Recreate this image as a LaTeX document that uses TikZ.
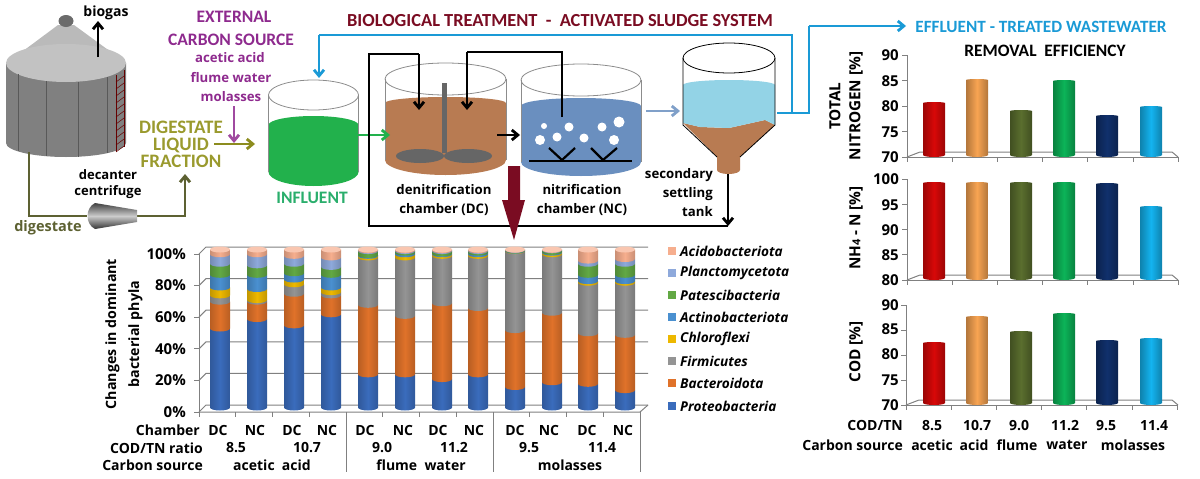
\documentclass[tikz,border=0pt]{standalone}
\usepackage{fontspec}
\setmainfont{Open Sans}
\newfontfamily\capfont{Carlito}
\usetikzlibrary{arrows.meta}
\newcommand{\fsz}[2]{\fontsize{#1}{#2}\selectfont}
\definecolor{olivepipe}{HTML}{5D6132}
\definecolor{olivetxt}{HTML}{9A9A2E}
\definecolor{oliveflow}{HTML}{8C8C1E}
\definecolor{purptxt}{HTML}{8E2A8E}
\definecolor{purpflow}{HTML}{A04AA0}
\definecolor{effblue}{HTML}{1A9AD6}
\definecolor{mtitle}{HTML}{7A0C22}
\definecolor{sludge}{HTML}{B87B52}
\definecolor{nitro}{HTML}{6A8FBF}
\definecolor{settle}{HTML}{93D3E6}
\definecolor{infl}{HTML}{22B14C}
\definecolor{infltxt}{HTML}{2AAE6C}
\definecolor{cprot}{HTML}{3A6CBC}
\definecolor{cbact}{HTML}{E0722A}
\definecolor{cfirm}{HTML}{949494}
\definecolor{cchlo}{HTML}{EDB800}
\definecolor{cacti}{HTML}{4A90D0}
\definecolor{cpate}{HTML}{62A844}
\definecolor{cplan}{HTML}{8EA9DB}
\definecolor{cacid}{HTML}{F6AE8E}
\definecolor{bred}{HTML}{D80808}
\definecolor{borg}{HTML}{F8A452}
\definecolor{boli}{HTML}{5A6E2E}
\definecolor{bgrn}{HTML}{0CB458}
\definecolor{bnav}{HTML}{10306C}
\definecolor{bcya}{HTML}{14B4F0}
\tikzset{
    %Define standard arrow tip
    >={Straight Barb[length=6pt,width=10pt]},
    %Define style for text
    lab/.style={font=\fsz{14}{19}\bfseries, inner sep=0pt, align=center},
    smlab/.style={font=\fsz{13.2}{19}\bfseries, inner sep=0pt, align=center},
    caplab/.style={font=\capfont\fsz{17.5}{17}\bfseries, inner sep=0pt, align=center},
    phylum/.style={font=\fsz{13.6}{16}\bfseries\itshape, inner sep=0pt, anchor=west},
    axnum/.style={font=\fsz{15}{16}\bfseries, inner sep=0pt, anchor=east},
    % Define pipe styles
    pipe/.style={line width=2.8pt, line cap=butt, line join=miter},
    rimline/.style={draw=black!45, line width=.8pt},
    gridl/.style={draw=black!50, line width=1pt},
    stackbar/.style={left color=#1!82!black, right color=#1!82!black, middle color=#1},
    colbar/.style={left color=#1!72!black, right color=#1!72!black, middle color=#1},
}
% x centre, from, to, colour
\newcommand{\stackseg}[4]{%
  \pgfmathsetmacro{\ylow}{407.5-1.58*#2}%
  \pgfmathsetmacro{\yhigh}{407.5-1.58*#3}%
  \path[stackbar=#4] (#1-10,\yhigh) -- (#1+10,\yhigh) -- (#1+10,\ylow)
    arc[start angle=0,end angle=-180,x radius=10pt,y radius=3pt] -- cycle;
}
% x centre, top, bottom, colour
\newcommand{\effbar}[4]{%
  \path[colbar=#4] (#1-11,#2+1) arc[start angle=180,end angle=0,x radius=11pt,y radius=1pt]
    -- (#1+11,#3-1) arc[start angle=0,end angle=-180,x radius=11pt,y radius=2pt] -- cycle;
}
% centre, half width, rim y, rim ry, liquid y, liquid ry, base y, base ry, colour
\newcommand{\tankfill}[9]{%
  \fill[#9] (#1-#2,#5) arc[start angle=180,end angle=0,x radius=#2pt,y radius=#6pt]
    -- (#1+#2,#7) arc[start angle=0,end angle=-180,x radius=#2pt,y radius=#8pt] -- cycle;
  \draw[rimline] (#1,#3) ellipse[x radius=#2pt,y radius=#4pt];
  \draw[rimline] (#1-#2,#3) -- (#1-#2,#7);
  \draw[rimline] (#1+#2,#3) -- (#1+#2,#7);
}
\begin{document}
\begin{tikzpicture}[x=1pt,y=-1pt]
\useasboundingbox (0,0) rectangle (1200,479);
% digester
\fill[black!27] (7,63) -- (58,25) -- (74,25) -- (126,63) -- cycle;
\fill[black!50] (6,63) -- (126,63) -- (126,143)
  arc[start angle=0,end angle=-180,x radius=60pt,y radius=14pt] -- cycle;
\fill[black!24] (66,63) ellipse[x radius=60pt,y radius=19pt];
\fill[black!58] (66,21) ellipse[x radius=7.5pt,y radius=6pt];
\foreach \xa/\ya/\yb in {18/74.4/151.4,46/81/156,78/81.6/156.7,107/77/153}
  \draw[black!65,line width=.7pt] (\xa,\ya) -- (\xa,\yb);
\draw[red!40!black,line width=.6pt] (116,75) -- (116,152) (124,70) -- (124,147);
\foreach \yh in {76,83,...,146}
  \draw[red!40!black,line width=.5pt] (116,\yh+6) -- (124,\yh);
\coordinate (gasa) at (98,57);
\coordinate (gasb) at (98,21);
\draw[->,line width=2.8pt] (gasa) -- (gasb);
\node[lab] (biogas) at (106,13) {biogas};
% decanter
\coordinate (silobase) at (29,152);
\coordinate (dcleft) at (87,216);
\coordinate (dcright) at (137,216);
\coordinate (liqin) at (185,174);
\draw[pipe,olivepipe] (silobase) |- (dcleft);
\draw[pipe,olivepipe,->] (dcright) -| (liqin);
\path[top color=black!75,bottom color=black!80,middle color=black!20]
  (95,203) -- (137,210) -- (137,222) -- (95,229) .. controls (85,224) and (85,208) .. (95,203) -- cycle;
\node[smlab,font=\fsz{13}{16}\bfseries] (decant) at (108,184) {decanter\\centrifuge};
\node[lab,text=olivepipe,font=\fsz{14.5}{16}\bfseries] (digest) at (48,228) {digestate};
% carbon source
\node[caplab,text=olivetxt,font=\capfont\fsz{19}{17}\bfseries] (liquor) at (181,144) {DIGESTATE\\LIQUID\\FRACTION};
\node[caplab,text=purptxt] (extern) at (234,17) {EXTERNAL};
\node[caplab,text=purptxt] (carbon) at (231,40) {CARBON SOURCE};
\node[smlab,text=purptxt] (acetic) at (230,58) {acetic acid};
\node[smlab,text=purptxt] (flume) at (231,78) {flume water};
\node[smlab,text=purptxt] (molas) at (231,97) {molasses};
\coordinate (liqa) at (214,144);
\coordinate (liqb) at (255,144);
\coordinate (cara) at (234,106);
\coordinate (carb) at (234,143);
\draw[pipe,oliveflow,->] (liqa) -- (liqb);
\draw[pipe,purpflow,->] (cara) -- (carb);
% tanks
\tankfill{313.5}{45}{95}{15}{125}{9}{172}{14}{infl}
\tankfill{445.5}{60.5}{79}{16}{103}{6}{160}{15}{sludge}
\tankfill{581}{60}{80}{16}{106}{8}{162}{14}{nitro}
\node[caplab,text=infltxt] (influent) at (312,198) {INFLUENT};
% mixer
\fill[black!60] (420,156) ellipse[x radius=24pt,y radius=7pt];
\fill[black!60] (468,156) ellipse[x radius=24pt,y radius=7pt];
\fill[black!60] (442,83) rectangle (447,153);
% aeration
\foreach \xb/\yb/\rb in {544/126/3,569/127/4.5,602/127/4.5,619/122/5.5,540/140/5,557/137/4.5,584/138/4.5,614/140/5}
  \fill[white] (\xb,\yb) circle[radius=\rb pt];
\draw[line width=2pt] (529,161) -- (632,161);
\draw[line width=2.2pt] (549,148) -- (562,160) -- (575,148);
\draw[line width=2.2pt] (591,148) -- (603,160) -- (617,148);
% secondary settler
\fill[sludge] (683,123) -- (700,127) -- (729,128) -- (765,120) -- (775,125) -- (740,157) -- (740,170)
  arc[start angle=0,end angle=-180,x radius=11.5pt,y radius=4pt] -- (717,157) -- cycle;
\fill[settle] (683,85) arc[start angle=180,end angle=0,x radius=46pt,y radius=5pt]
  -- (775,125) -- (765,120) -- (729,128) -- (700,127) -- (683,123) -- cycle;
\draw[line width=.8pt] (729,58) ellipse[x radius=46pt,y radius=15pt];
\draw[line width=.8pt] (683,58) -- (683,125) -- (717,157);
\draw[line width=.8pt] (775,58) -- (775,125) -- (740,157);
% flows between chambers
\coordinate (ina) at (358,135);
\coordinate (inb) at (390,135);
\coordinate (dna) at (497,135);
\coordinate (dnb) at (520,135);
\coordinate (nia) at (646,111);
\coordinate (nib) at (680,111);
\draw[pipe,infl,->] (ina) -- (inb);
\draw[pipe,->,black] (dna) -- (dnb);
\draw[pipe,nitro!85!white,->] (nia) -- (nib);
\coordinate (rasa) at (728,174);
\coordinate (rasb) at (728,226);
\coordinate (rasc) at (369,226);
\coordinate (rasd) at (369,54);
\coordinate (rase) at (419,54);
\coordinate (rasf) at (419,110);
\draw[pipe,->] (rasa) -- (rasb);
\draw[pipe] (rasb) -- (rasc) -- (rasd) -- (rase);
\draw[pipe,->] (rase) -- (rasf);
\coordinate (ira) at (562,117);
\coordinate (irb) at (562,52);
\coordinate (irc) at (467,52);
\coordinate (ird) at (467,110);
\draw[pipe] (ira) -- (irb) -- (irc);
\draw[pipe,->] (irc) -- (ird);
% effluent
\coordinate (efa) at (792,113);
\coordinate (efb) at (792,35);
\coordinate (efc) at (319,35);
\coordinate (efd) at (319,78);
\coordinate (efe) at (777,113);
\coordinate (eff) at (809,113);
\coordinate (efg) at (809,26);
\coordinate (efh) at (906,26);
\draw[pipe,effblue] (efa) -- (efb) -- (efc);
\draw[pipe,effblue,->] (efc) -- (efd);
\draw[pipe,effblue] (efe) -- (eff) -- (efg);
\draw[pipe,effblue,->] (efg) -- (efh);
\node[caplab,text=mtitle,font=\capfont\fsz{18.4}{20}\bfseries] (title) at (560,21) {BIOLOGICAL TREATMENT\ \ -\ \ ACTIVATED SLUDGE SYSTEM};
\node[caplab,text=effblue,font=\capfont\fsz{17.2}{18}\bfseries] (efftxt) at (1041,27) {EFFLUENT - TREATED WASTEWATER};
\node[smlab] (dctxt) at (444,199.5) {denitrification\\chamber (DC)};
\node[smlab] (nctxt) at (582,200) {nitrification\\chamber (NC)};
\node[smlab,align=right,anchor=east] (settxt) at (713,193) {secondary\\settling\\tank};
% bar chart: walls
\foreach \yg in {405,373.4,341.8,310.2,278.6,247}
  \draw[gridl] (199,\yg+7) -- (206,\yg) -- (648,\yg);
\draw[gridl] (199,412) -- (640,412) -- (648,405);
\draw[gridl] (199,254) -- (199,412);
\foreach \pc/\yy in {0/412,20/380.4,40/348.8,60/317.2,80/285.6,100/254}{
  \draw[gridl] (194,\yy) -- (199,\yy);
  \node[axnum] (pct\pc) at (186,\yy) {\pc\%};
}
\foreach \xt in {199,235.8,272.5,309.3,346,382.8,419.5,456.3,493,529.8,566.5,603.3,640}
  \draw[gridl] (\xt,412) -- (\xt,417);
\foreach \xt in {346,493,640}
  \draw[gridl] (\xt,417) -- (\xt,472);
% stacked bars
\foreach \xc/\pa/\pb/\pc/\pd/\pe/\pf/\pg in {
  220/50/67/71/76/84/91/97, 257/56/67/68/75/84/90/97,
  294/52/72/78/81/85/91/96, 331/59/71/73/76/84/89/95,
  368/21/65/95/96/96.5/99/99.5, 405/21/58/95/97/98/99/99.5,
  442/18/66/96/97/97.5/99/99.5, 478/21/63/96/97/98/99/99.5,
  515/13/49/99/99.2/99.4/99.7/99.9, 552/16/60/97/98/98.5/99.5/99.8,
  588/15/47/79/80/84/91/93, 625/11/46/79/80/84/91/94}{
  \stackseg{\xc}{0}{\pa}{cprot}
  \stackseg{\xc}{\pa}{\pb}{cbact}
  \stackseg{\xc}{\pb}{\pc}{cfirm}
  \stackseg{\xc}{\pc}{\pd}{cchlo}
  \stackseg{\xc}{\pd}{\pe}{cacti}
  \stackseg{\xc}{\pe}{\pf}{cpate}
  \stackseg{\xc}{\pf}{\pg}{cplan}
  \stackseg{\xc}{\pg}{100}{cacid}
  \fill[cacid!70!white] (\xc,249.5) ellipse[x radius=10pt,y radius=3pt];
}
% legend
\foreach \cl/\nm/\yl in {cacid/Acidobacteriota/251,cplan/Planctomycetota/273,cpate/Patescibacteria/295,cacti/Actinobacteriota/317,cchlo/Chloroflexi/339,cfirm/Firmicutes/361,cbact/Bacteroidota/383,cprot/Proteobacteria/406}{
  \fill[\cl] (668,\yl-4) rectangle (676,\yl+4);
  \node[phylum] (leg\nm) at (680,\yl) {\nm};
}
\node[lab,rotate=90,font=\fsz{14.2}{23}\bfseries] (phylatxt) at (124,334) {Changes in dominant\\bacterial phyla};
\node[lab,anchor=east] (chamber) at (200,430) {Chamber};
\node[lab,anchor=east] (ratio) at (203,448) {COD/TN ratio};
\node[lab,anchor=east] (source) at (203,465) {Carbon source};
\foreach \xl/\ch in {218/DC,255/NC,292/DC,327/NC,365/DC,403/NC,438/DC,474/NC,515/DC,549/NC,587/DC,623/NC}
  \node[lab] (ch\xl) at (\xl,430.5) {\ch};
\foreach \xl/\rt in {236/8.5,307/10.7,382/9.0,454/11.2,529/9.5,602/11.4}
  \node[lab] (rt\xl) at (\xl,448) {\rt};
\node[lab] (srca) at (272,465) {acetic\ \ acid};
\node[lab] (srcb) at (421,465) {flume\ \ water};
\node[lab] (srcc) at (570,465) {molasses};
% removal efficiency
\node[caplab,font=\capfont\fsz{17.4}{18}\bfseries] (remov) at (1045,51) {REMOVAL\ \ EFFICIENCY};
\foreach \ay/\by/\ax in {157/55/907,280/179/907,405/305/906}{
  \draw[gridl] (\ax,\ay) -- (\ax,\by);
  \draw[gridl] (\ax,\ay) -- (\ax+13,\ay-5) -- (1172,\ay-5) -- (1178,\ay);
  \draw[gridl] (\ax,\ay) -- (1178,\ay);
  \foreach \tk in {0,1,...,6}
    \draw[gridl] ({\ax+\tk*45.2},\ay) -- ({\ax+\tk*45.2},\ay+5);
  \foreach \tk in {0,1,...,4}
    \draw[gridl] (\ax-5,{\ay+(\by-\ay)*\tk/4}) -- (\ax,{\ay+(\by-\ay)*\tk/4});
}
\foreach \yy/\vv in {55/90,81/85,106.5/80,132/75,157/70,179/100,205/95,230/90,255/85,280/80,305/90,329/85,354/80,380/75,405/70}
  \node[axnum] (ax\yy) at (899,\yy) {\vv};
\foreach \xc/\ta/\tb/\tc/\cl in {934/102/182/342/bred,977/79/182/316/borg,1021/110/182/331/boli,1064/80/182/313/bgrn,1107/115/183/340/bnav,1151/106/206/338/bcya}{
  \effbar{\xc}{\ta}{156}{\cl}
  \effbar{\xc}{\tb}{279}{\cl}
  \effbar{\xc}{\tc}{404}{\cl}
}
\node[lab,rotate=90,font=\fsz{15.3}{20}\bfseries] (tntxt) at (846,106) {TOTAL\\NITROGEN [\%]};
\node[lab,rotate=90,font=\fsz{15.3}{20}\bfseries] (nhtxt) at (856,228) {NH{\fsz{11}{11}4} - N [\%]};
\node[lab,rotate=90,font=\fsz{15.3}{20}\bfseries] (codtxt) at (856,352) {COD [\%]};
\node[lab,anchor=east] (ctn) at (903,425) {COD/TN};
\node[lab,anchor=east] (csrc) at (903,445) {Carbon source};
\foreach \xl/\rt in {932/8.5,977/10.7,1019/9.0,1065/11.2,1106/9.5,1154/11.4}
  \node[lab] (rr\xl) at (\xl,426) {\rt};
\foreach \xl/\st in {932/acetic,974/acid,1017/flume,1067/water,1133/molasses}
  \node[lab] (ss\xl) at (\xl,445) {\st};
% big arrow to the chart
\fill[mtitle] (508,166) -- (520,166) -- (520,200) -- (525,200) -- (514,240) -- (502,200) -- (508,200) -- cycle;
\end{tikzpicture}
\end{document}
